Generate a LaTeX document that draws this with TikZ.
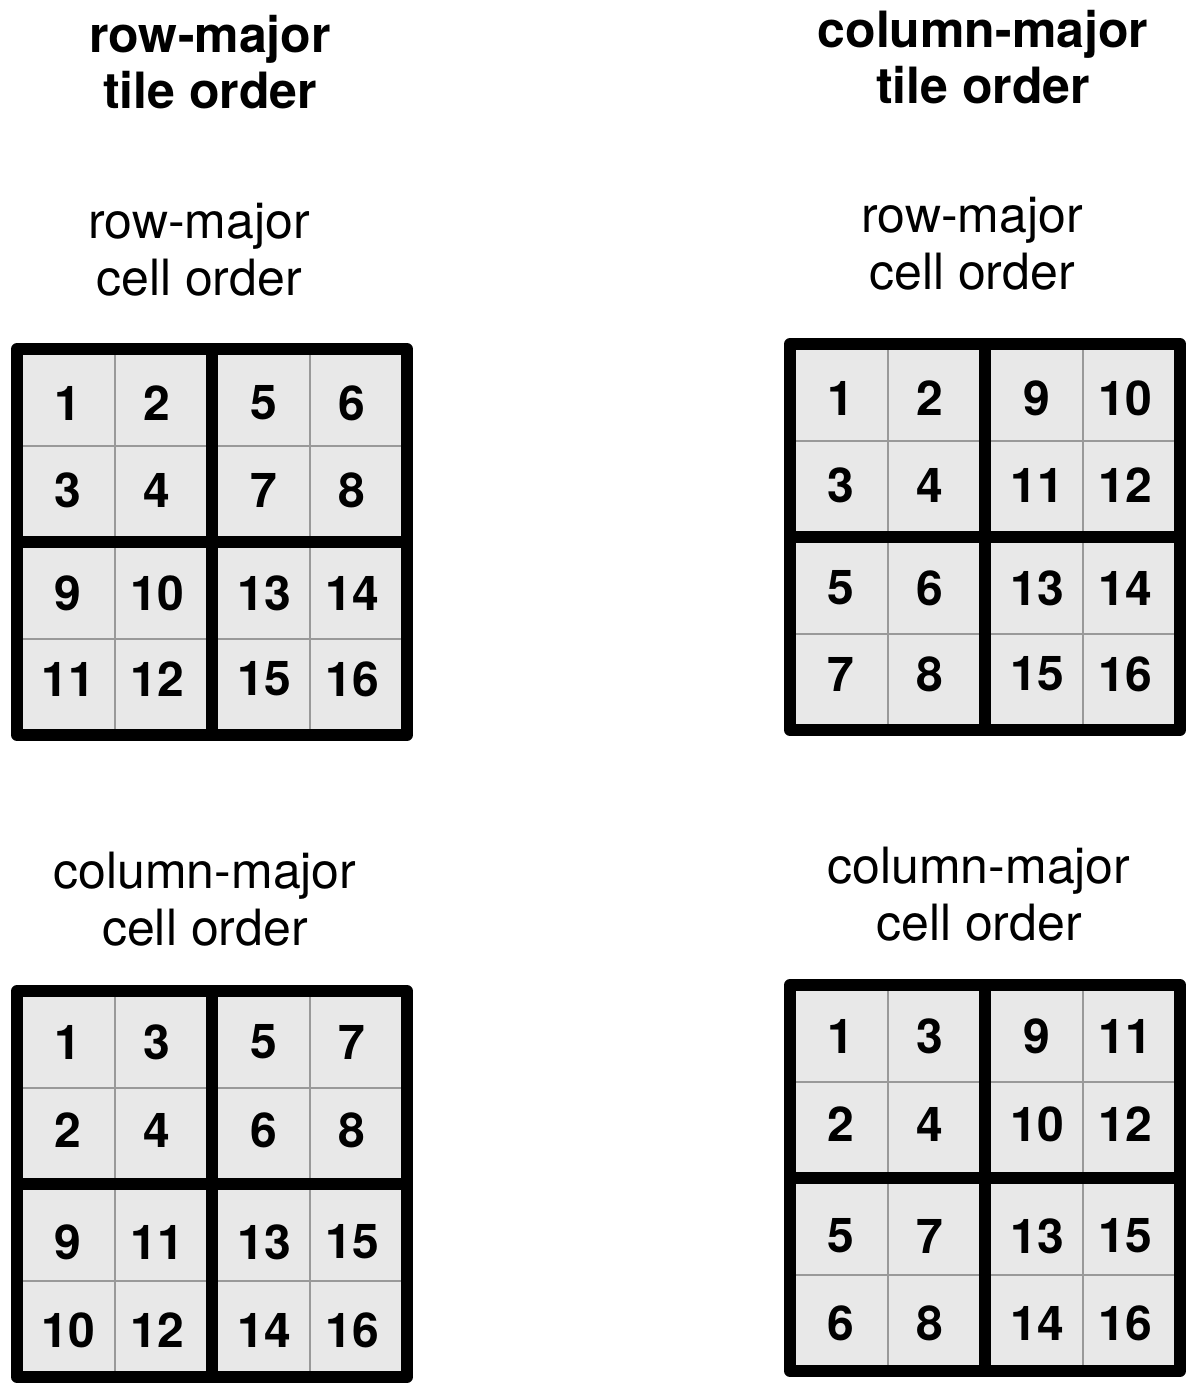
\documentclass[tikz,border=0pt]{standalone}
\usepackage{fontspec}
\setmainfont{TeX Gyre Heros}
\usetikzlibrary{positioning}
\definecolor{cellfill}{HTML}{E8E8E8}
\definecolor{cellline}{HTML}{999999}

\tikzset{
  heading/.style={font=\fontsize{50}{56}\selectfont\bfseries,align=center,anchor=base,inner sep=0pt},
  caption/.style={font=\fontsize{50}{57}\selectfont,align=center,anchor=base,inner sep=0pt},
  num/.style={font=\fontsize{48}{48}\selectfont\bfseries,inner sep=0pt},
  tileframe/.style={draw=black,line width=12pt,line join=round},
  cellgrid/.style={draw=cellline,line width=2pt},
}

% grid of 2x2 tiles, each of 2x2 cells; #4 = numbers read row by row,
% #5 = vertical offsets of the four rows of numbers
\newcommand{\ordergrid}[5]{%
  \fill[cellfill] (#2,#3) rectangle ++(390,386);
  \draw[cellgrid] (#2+97.5,#3) -- ++(0,386) (#2+292.5,#3) -- ++(0,386)
                  (#2,#3+96.5) -- ++(390,0) (#2,#3+289.5) -- ++(390,0);
  \foreach \n [count=\i from 0] in {#4}{
    \pgfmathsetmacro{\cx}{#2+{51,140,247,335}[mod(\i,4)]}
    \pgfmathsetmacro{\cy}{#3+{#5}[int(\i/4)]}
    \node[num] (#1-\n) at (\cx,\cy) {\n};
  }
  \draw[tileframe] (#2,#3) rectangle ++(390,386)
                   (#2+195,#3) -- ++(0,386) (#2,#3+193) -- ++(390,0);
}

\begin{document}
\begin{tikzpicture}[x=1pt,y=-1pt]
  \useasboundingbox (0,0) rectangle (1191,1387);
  % base anchor = baseline of the last line
  \node[heading] (rowtile) at (210,108) {row-major\\tile order};
  \node[heading] (coltile) at (983,103) {column-major\\tile order};
  \node[caption] (rrcap) at (199,295) {row-major\\cell order};
  \node[caption] (crcap) at (972,289) {row-major\\cell order};
  \node[caption] (rccap) at (205,945) {column-major\\cell order};
  \node[caption] (cccap) at (979,940) {column-major\\cell order};
  \ordergrid{rr}{17}{349}{1,2,5,6,3,4,7,8,9,10,13,14,11,12,15,16}{54,141,244,330}
  \ordergrid{cr}{790}{344}{1,2,9,10,3,4,11,12,5,6,13,14,7,8,15,16}{54,141,244,330}
  \ordergrid{rc}{17}{991}{1,3,5,7,2,4,6,8,9,11,13,15,10,12,14,16}{51,139,251,339}
  \ordergrid{cc}{790}{985}{1,3,9,11,2,4,10,12,5,7,13,15,6,8,14,16}{51,139,251,338}
\end{tikzpicture}
\end{document}
